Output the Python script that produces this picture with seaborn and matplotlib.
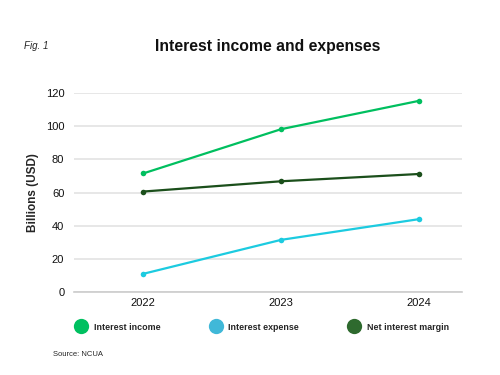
import pandas as pd
import matplotlib.pyplot as plt
import seaborn as sns
from matplotlib.lines import Line2D

years = ["2022", "2023", "2024"]
interest_income = [71.5, 98.2, 115.3]
interest_expense = [11.0, 31.5, 44.0]
net_margin = [60.6, 66.8, 71.2]

series_names = ["Interest income", "Interest expense", "Net interest margin"]
line_colors = ["#00BF5F", "#1CCBE0", "#1B4F1B"]
legend_colors = ["#00C060", "#40B8D8", "#2E6A2E"]

df = pd.DataFrame({
    "Year": years * 3,
    "Value": interest_income + interest_expense + net_margin,
    "Series": [s for s in series_names for _ in years],
})

sns.set_style("white")
plt.rcParams["font.family"] = ["Liberation Sans", "DejaVu Sans"]

fig = plt.figure(figsize=(5, 3.75), dpi=100)
ax = fig.add_axes([0.148, 0.221, 0.776, 0.531])

sns.lineplot(data=df, x="Year", y="Value", hue="Series", palette=line_colors,
             marker="o", markersize=4, markeredgewidth=0, linewidth=1.6,
             legend=False, ax=ax)

ax.set_xlim(-0.5, 2.31)
ax.set_ylim(0, 120)
ax.set_yticks([0, 20, 40, 60, 80, 100, 120])
ax.grid(axis="y", color="#e3e3e3", linewidth=1.2)
ax.set_axisbelow(True)
for side in ["top", "right", "left"]:
    ax.spines[side].set_visible(False)
ax.spines["bottom"].set_color("#cccccc")
ax.spines["bottom"].set_linewidth(1.2)
ax.tick_params(axis="both", length=0, labelsize=8, colors="#111111")
ax.tick_params(axis="y", pad=7)
ax.tick_params(axis="x", pad=4)
ax.set_xlabel("")
ax.set_ylabel("Billions (USD)", fontsize=8.5, fontweight="bold", labelpad=5)

fig.text(0.536, 0.877, "Interest income and expenses", ha="center", va="center",
         fontsize=11.3, fontweight="bold", color="#111111")
fig.text(0.048, 0.877, "Fig. 1", ha="left", va="center", fontsize=7, style="italic")
fig.text(0.106, 0.056, "Source: NCUA", ha="left", va="center", fontsize=5.5)

handles = [Line2D([0], [0], marker="o", linestyle="", markersize=11,
                  markerfacecolor=c, markeredgewidth=0) for c in legend_colors]
leg = fig.legend(handles, series_names, loc="center left", ncol=3,
                 bbox_to_anchor=(0.128, 0.128), frameon=False,
                 handletextpad=0.45, columnspacing=5.2,
                 prop={"size": 6.4, "weight": "bold"})

fig.savefig("out.png", dpi=100)
